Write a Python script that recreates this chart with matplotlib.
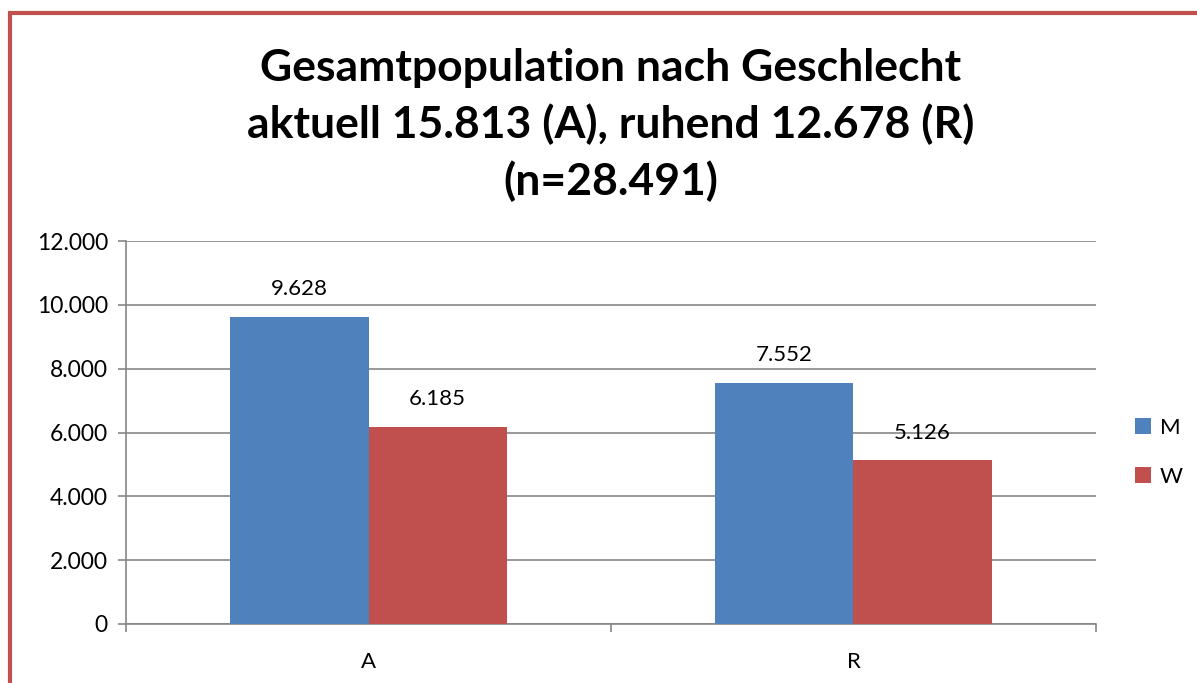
import matplotlib
matplotlib.use('Agg')
import matplotlib.pyplot as plt
import numpy as np
from matplotlib.patches import Rectangle

# Daten
categories = ['A', 'R']
series_names = ['M', 'W']
values_m = [9628, 7552]
values_w = [6185, 5126]
y_ticks = [0, 2000, 4000, 6000, 8000, 10000, 12000]
y_tick_labels = ['0', '2.000', '4.000', '6.000', '8.000', '10.000', '12.000']
title = 'Gesamtpopulation nach Geschlecht\naktuell 15.813 (A), ruhend 12.678 (R)\n(n=28.491)'

blue = '#4f81bd'
red = '#c0504d'
grid_col = '#868686'

plt.rcParams['font.family'] = ['Lato', 'DejaVu Sans']

fig = plt.figure(figsize=(11.97, 6.83), dpi=100)
ax = fig.add_axes([0.1053, 0.0864, 0.8103, 0.5607])

x = np.arange(len(categories))
w = 0.285
bars_m = ax.bar(x - w / 2, values_m, w, color=blue, label=series_names[0], zorder=3)
bars_w = ax.bar(x + w / 2, values_w, w, color=red, label=series_names[1], zorder=3)

for bars, vals in [(bars_m, values_m), (bars_w, values_w)]:
    for b, v in zip(bars, vals):
        ax.annotate(f'{v:,}'.replace(',', '.'), (b.get_x() + b.get_width() / 2, v),
                    xytext=(0, 20), textcoords='offset points', ha='center', va='center',
                    fontsize=16)

ax.set_xlim(-0.5, 1.5)
ax.set_ylim(0, 12000)
ax.set_yticks(y_ticks)
ax.set_yticklabels(y_tick_labels, fontsize=16.5)
ax.set_xticks([-0.5, 0.5, 1.5], minor=False)
ax.set_xticklabels([])
ax.set_xticks(x, minor=True)
ax.set_xticklabels(categories, minor=True, fontsize=16)
ax.tick_params(axis='x', which='minor', length=0, pad=20)
ax.tick_params(axis='x', which='major', length=6, color=grid_col, width=1.2, direction='out')
ax.tick_params(axis='y', length=6, color=grid_col, width=1.2, direction='out', pad=7)

ax.yaxis.grid(True, color=grid_col, linewidth=1.2, zorder=0)
ax.set_axisbelow(True)
for s in ['top', 'right']:
    ax.spines[s].set_visible(False)
for s in ['left', 'bottom']:
    ax.spines[s].set_color(grid_col)
    ax.spines[s].set_linewidth(1.2)

leg = ax.legend(loc='center left', bbox_to_anchor=(1.02, 0.448), frameon=False, fontsize=16,
                handlelength=0.7, handleheight=0.7, handletextpad=0.4, labelspacing=1.3)

fig.text(0.51, 0.817, title, ha='center', va='center', fontsize=32, fontweight='bold',
         linespacing=1.45)

# roter Rahmen (rechts und unten abgeschnitten)
fig.patches.append(Rectangle((10 / 1197, -0.1), 1.2, 1 - 13 / 683 + 0.1, transform=fig.transFigure,
                             fill=False, edgecolor=red, linewidth=3))

fig.savefig('out.png', dpi=100)
